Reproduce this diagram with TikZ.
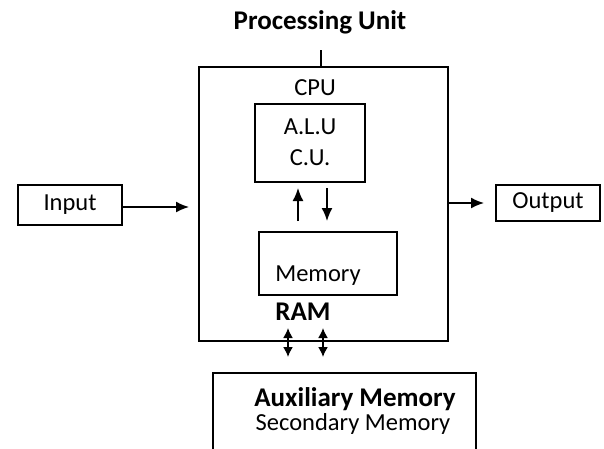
\documentclass[tikz,border=0pt]{standalone}
\usepackage{fontspec}
\setmainfont{Carlito}
\usetikzlibrary{positioning, arrows.meta}

\tikzset{
    unit/.style={draw, line width=2pt, inner sep=0pt},
    lbl/.style={inner sep=0pt, font=\fontsize{24.5}{28}\selectfont},
    blbl/.style={inner sep=0pt, font=\fontsize{27}{31}\selectfont\bfseries},
    arr/.style={line width=1.6pt, -{Latex[length=13pt,width=11pt]}},
    darr/.style={line width=1.6pt, {Latex[length=10pt,width=10pt]}-{Latex[length=10pt,width=10pt]}}
}

\begin{document}
\begin{tikzpicture}[x=1pt, y=-1pt]
    \useasboundingbox (0,0) rectangle (604,448);
    \clip (0,0) rectangle (604,448);

    % boxes
    \node[unit, minimum width=249pt, minimum height=274pt] (cpu) at (323.5,204) {};
    \node[unit, minimum width=110pt, minimum height=78pt] (alu) at (310,143) {};
    \node[unit, minimum width=138pt, minimum height=63pt] (mem) at (328,263.5) {};
    \node[unit, minimum width=104pt, minimum height=40pt] (in) at (70,205) {};
    \node[unit, minimum width=104pt, minimum height=36pt] (out) at (548,203) {};
    \node[unit, minimum width=263pt, minimum height=86pt] (aux) at (344.5,416) {};

    % texts
    \node[blbl] (pu) at (320,22) {Processing Unit};
    \node[lbl] (cpulbl) at (315,88) {CPU};
    \node[lbl] (alulbl) at (310,127) {A.L.U};
    \node[lbl] (culbl) at (310,158) {C.U.};
    \node[lbl] (memlbl) at (318,276) {Memory};
    \node[blbl] (ram) at (303,312) {RAM};
    \node[lbl] (inlbl) at (in) {Input};
    \node[lbl] (outlbl) at (out) {Output};
    \node[blbl] (auxlbl) at (355,399) {Auxiliary Memory};
    \node[lbl] (seclbl) at (353,424) {Secondary Memory};

    % connectors
    \coordinate (tick) at (321,50);
    \draw[line width=2pt] (tick) -- (tick |- cpu.north);

    \coordinate (up) at (298,0);
    \coordinate (down) at (327,0);
    \coordinate (r1) at (288,0);
    \coordinate (r2) at (323,0);

    \path[arr]
        (in.east |- 0,207) edge[shorten >=9pt] (cpu.west |- 0,207)
        (cpu.east |- out) edge[shorten >=11pt] (out.west)
        (up |- mem.north) edge[shorten <=10pt, shorten >=5pt] (up |- alu.south)
        (down |- alu.south) edge[shorten <=5pt, shorten >=10pt] (down |- mem.north);
    \path[darr]
        (r1 |- cpu.south) edge[shorten <=-14pt, shorten >=15pt] (r1 |- aux.north)
        (r2 |- cpu.south) edge[shorten <=-14pt, shorten >=15pt] (r2 |- aux.north);
\end{tikzpicture}
\end{document}
